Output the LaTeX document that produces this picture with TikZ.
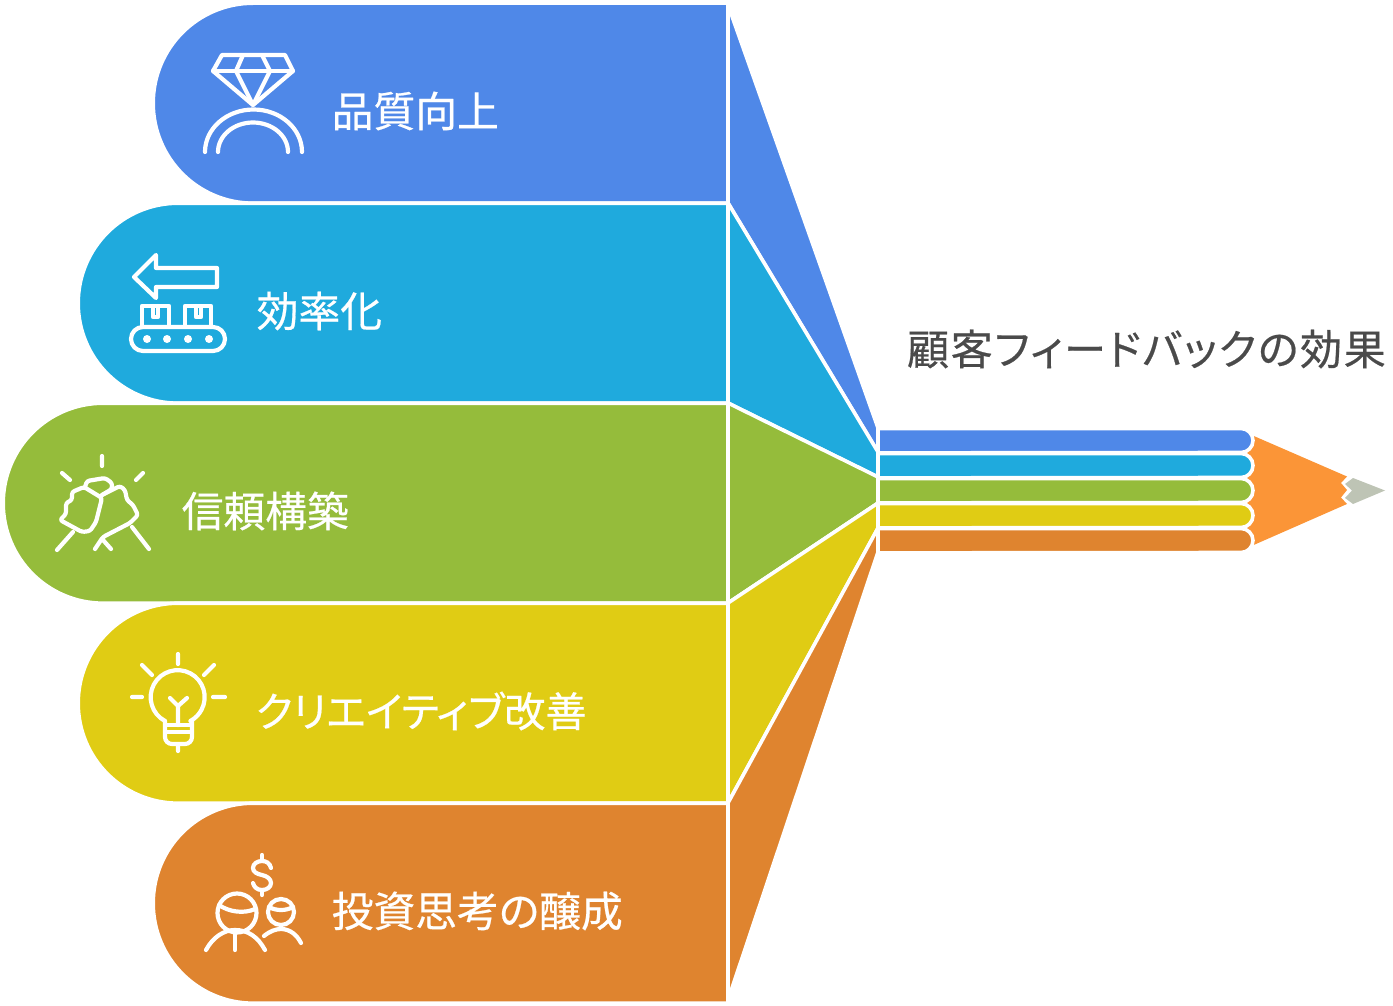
\documentclass[tikz,border=0pt]{standalone}
\usepackage{fontspec}
\newfontfamily\cjk[RawFeature=+palt,FakeBold=0.5]{Noto Sans CJK JP}
\newfontfamily\cjktitle[RawFeature=+palt,LetterSpace=4,FakeBold=0.5]{Noto Sans CJK JP}
\definecolor{cblue}{HTML}{4F88E8}
\definecolor{ccyan}{HTML}{1FAADD}
\definecolor{cgreen}{HTML}{95BC3B}
\definecolor{cyellow}{HTML}{E0CC14}
\definecolor{corange}{HTML}{DF842F}
\definecolor{cpencil}{HTML}{FB9537}
\definecolor{ctip}{HTML}{BEC4B5}
\definecolor{ctitle}{HTML}{4A4A4A}
\tikzset{
  seg/.style={draw=white,line width=3.6pt,line join=miter},
  icon/.style={draw=white,line width=4.2pt,line cap=round,line join=round},
  lab/.style={anchor=west,inner sep=0pt,text=white,font=\cjk\fontsize{41.8}{42}\selectfont},
  labk/.style={anchor=west,inner sep=0pt,text=white,font=\cjk\fontsize{41.2}{42}\selectfont},
  ttl/.style={anchor=east,inner sep=0pt,text=ctitle,font=\cjktitle\fontsize{42}{42}\selectfont},
}
\newcommand{\band}[3]{% left x, top y, colour
  \fill[#3,seg] (728,#2) -- ({#1+98.2},#2) arc[start angle=270,end angle=90,radius=100pt] -- (728,{#2+200}) -- cycle;}
\newcommand{\pbar}[3]{% top, bottom, colour
  \fill[#3,seg] (878,#1) -- (1241,#1) arc[start angle=270,end angle=450,radius=12pt] -- (878,#2) -- cycle;}
\begin{document}
\begin{tikzpicture}[x=1pt,y=1pt,yscale=-1]
\useasboundingbox (0,0) rectangle (1393,1006);
% fan
\fill[cblue,seg] (728,5) -- (878,428) -- (878,452) -- (728,203) -- cycle;
\fill[ccyan,seg] (728,203) -- (878,452) -- (878,477) -- (728,403) -- cycle;
\fill[cgreen,seg] (728,403) -- (878,477) -- (878,503) -- (728,603) -- cycle;
\fill[cyellow,seg] (728,603) -- (878,503) -- (878,528) -- (728,803) -- cycle;
\fill[corange,seg] (728,803) -- (878,528) -- (878,552) -- (728,1000) -- cycle;
% bands
\band{155}{3.2}{cblue}
\band{80}{203.2}{ccyan}
\band{5}{403.2}{cgreen}
\band{80}{603.2}{cyellow}
\band{155}{803.2}{corange}
% pencil
\fill[cpencil] (1240,430) -- (1347,476.5) -- (1341,483) -- (1347,490) -- (1341,497.5) -- (1347,504) -- (1240,551) -- cycle;
\fill[ctip] (1353,478) -- (1385,490.5) -- (1353,504) -- (1345,498) -- (1352,490.5) -- (1345,484) -- cycle;
\pbar{428.5}{452.9}{cblue}
\pbar{453.5}{477.9}{ccyan}
\pbar{478.5}{502.9}{cgreen}
\pbar{503.5}{527.9}{cyellow}
\pbar{528.5}{552.9}{corange}
% labels
\node[lab] (t1) at (331.5,111) {品質向上};
\node[lab] (t2) at (256.5,311) {効率化};
\node[lab] (t3) at (181.5,511) {信頼構築};
\node[labk] (t4) at (255.5,711) {クリエイティブ改善};
\node[lab] (t5) at (331.5,911) {投資思考の醸成};
\node[ttl] (title) at (1386,349) {顧客フィードバックの効果};
% ring
\draw[icon] (222,55) -- (285,55) -- (293,71) -- (253,105) -- (213,71) -- cycle;
\draw[icon] (213,71) -- (293,71);
\draw[icon] (243,55) -- (236,71) -- (253,105) -- (270,71) -- (262,55);
\draw[icon] (205,152) arc[start angle=180,end angle=360,x radius=48.5pt,y radius=42.5pt];
\draw[icon] (218,152) arc[start angle=180,end angle=360,x radius=35pt,y radius=29.5pt];
% conveyor
\draw[icon] (156,255) -- (134,277) -- (156,298) -- (156,287) -- (217,287) -- (217,268) -- (156,268) -- cycle;
\draw[icon] (142,327) -- (142,306) -- (169,306) -- (169,327);
\draw[icon] (153,306) -- (153,317) -- (158,317) -- (158,306);
\draw[icon] (185,327) -- (185,306) -- (211,306) -- (211,327);
\draw[icon] (196,306) -- (196,317) -- (201,317) -- (201,306);
\draw[icon,rounded corners=12pt] (131,327) rectangle (225,351);
\foreach \p in {147,167,188,209} \fill[white] (\p,339) circle[radius=4pt];
% handshake
\draw[icon] (102,456) -- (102,466) (62,473) -- (70,480) (143,473) -- (136,480);
\draw[icon,rounded corners=2.5pt] (60,520) -- (66,514) -- (66,503) -- (72,500) -- (72,492) -- (84,487) -- (102,498) -- (96,522) -- (90,531) -- (82,532) -- cycle;
\draw[icon,rounded corners=2.5pt] (85,487) -- (87,481) -- (105,478) -- (112,483) -- (112,489) -- (102,495);
\draw[icon,rounded corners=2.5pt] (102,495) -- (120,486) -- (125,490) -- (127,500) -- (133,505) -- (138,515) -- (130,523) -- (103,537) -- (95,549);
\draw[icon] (73,532) -- (57,550) (132,527) -- (149,549) (103,540) -- (111,549);
% bulb
\draw[icon] (165,721) arc[start angle=118,end angle=422,radius=27pt];
\draw[icon] (178,654) -- (178,664) (142,665) -- (152,675) (214,665) -- (204,675) (132,697) -- (142,697) (213,697) -- (225,697);
\draw[icon,rounded corners=7pt] (165,721) -- (165,744) -- (192,744) -- (192,721);
\draw[icon] (165,725) -- (192,725) (165,732) -- (192,732);
\draw[icon] (178,725) -- (178,706) (170,698) -- (178,706) -- (187,698) (178,745) -- (178,751);
% investors
\draw[icon] (262,855) -- (262,860) (262,890) -- (262,895);
\draw[icon] (271,868) .. controls (270,863) and (266,861) .. (262,861) .. controls (257,861) and (253,864) .. (253,868) .. controls (253,872) and (257,874) .. (262,875) .. controls (267,876) and (271,879) .. (271,883) .. controls (271,887) and (267,890) .. (262,890) .. controls (257,890) and (254,887) .. (253,883);
\draw[icon] (237,913) circle[radius=19.5pt];
\draw[icon] (219,905) .. controls (229,912) and (244,914) .. (255,909);
\draw[icon] (206,950) .. controls (213,937) and (224,930) .. (235,930) .. controls (248,930) and (258,937) .. (265,950);
\draw[icon] (235,930) -- (235,950);
\draw[icon] (281,912) circle[radius=13pt];
\draw[icon] (269,907) .. controls (276,911) and (286,911) .. (293,907);
\draw[icon] (264,936) .. controls (270,931) and (276,929) .. (281,929) .. controls (290,929) and (297,935) .. (301,943);
\end{tikzpicture}
\end{document}
